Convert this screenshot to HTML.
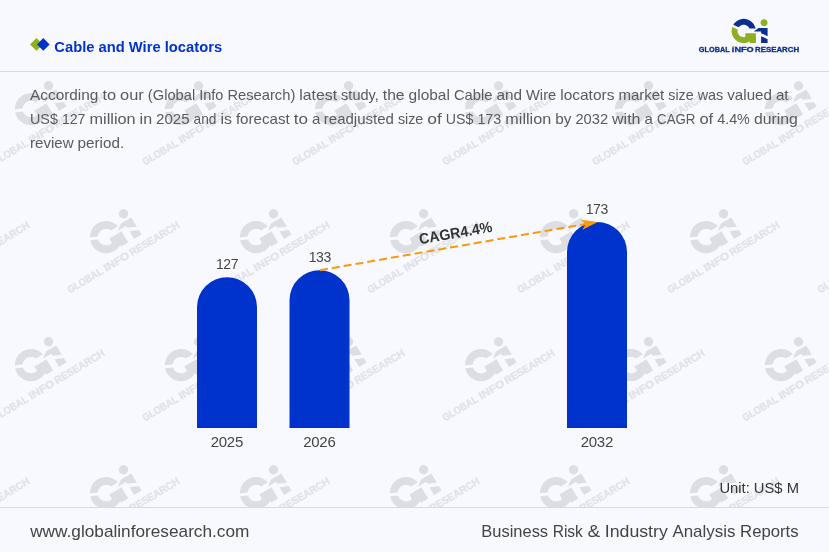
<!DOCTYPE html>
<html lang="en"><head><meta charset="utf-8"><title>Cable and Wire locators</title>
<style>
html,body{margin:0;padding:0;background:#f8f9fe;}
body{width:829px;height:552px;overflow:hidden;}
svg{display:block;will-change:transform;font-family:"Liberation Sans",sans-serif;}
</style></head><body>
<svg width="829" height="552" viewBox="0 0 829 552">
<rect width="829" height="552" fill="#f8f9fe"/>
<defs><clipPath id="wmclip"><rect x="0" y="71.5" width="829" height="435.5"/></clipPath></defs>

<g clip-path="url(#wmclip)">
<g transform="translate(31.00,109.10) rotate(-31) scale(1.33)"><path d="M9.79,-7.11L8.56,-8.56L7.11,-9.79L5.49,-10.78L3.74,-11.51L1.89,-11.95L0.00,-12.10L-1.89,-11.95L-3.74,-11.51L-5.49,-10.78L-7.11,-9.79L-8.56,-8.56L-9.79,-7.11L-10.41,-6.10L-5.02,-3.63L-5.02,-3.64L-4.38,-4.38L-3.64,-5.02L-2.81,-5.52L-1.92,-5.90L-0.97,-6.12L0.00,-6.20L0.97,-6.12L1.92,-5.90L2.81,-5.52L3.64,-5.02L4.38,-4.38L5.02,-3.64L5.52,-2.81L5.72,-2.35L11.84,-2.35L11.51,-3.74L10.78,-5.49ZM17.40,2.25L23.90,5.23L23.90,-2.90L17.40,-2.90L14.90,-2.90L10.00,0.45L17.40,0.45ZM23.90,8.23L17.40,5.25L17.40,12.05L23.90,12.05Z" fill="#dddee4"/><path d="M23.73,-9.16L23.38,-10.00L22.82,-10.72L22.10,-11.28L21.26,-11.63L20.35,-11.75L19.44,-11.63L18.60,-11.28L17.88,-10.72L17.32,-10.00L16.97,-9.16L16.85,-8.25L16.97,-7.34L17.32,-6.50L17.88,-5.78L18.60,-5.22L19.44,-4.87L20.35,-4.75L21.26,-4.87L22.10,-5.22L22.82,-5.78L23.38,-6.50L23.73,-7.34L23.85,-8.25ZM-11.51,3.74L-10.78,5.49L-9.79,7.11L-8.56,8.56L-7.11,9.79L-5.49,10.78L-3.74,11.51L-1.89,11.95L0.00,12.10L1.89,11.95L3.74,11.51L5.49,10.78L6.00,10.47L6.00,12.05L12.20,12.05L12.20,6.30L12.20,2.25L11.87,2.25L6.00,2.25L5.76,2.25L1.60,2.25L1.60,5.97L0.97,6.12L0.00,6.20L-0.97,6.12L-1.92,5.90L-2.81,5.52L-3.64,5.02L-4.38,4.38L-5.02,3.64L-5.52,2.81L-5.90,1.92L-6.12,0.97L-6.20,0.00L-6.12,-0.97L-5.98,-1.57L-11.38,-4.04L-11.51,-3.74L-11.95,-1.89L-12.10,0.00L-11.95,1.89Z" fill="#dddee4"/><text y="22.45" font-size="7.8" font-weight="700" fill="#e2e3e9" stroke="#e2e3e9" stroke-width="0.3" xml:space="preserve"><tspan x="-45.14" textLength="29.73" lengthAdjust="spacingAndGlyphs">GLOBAL</tspan> <tspan x="-13.21" textLength="21.12" lengthAdjust="spacingAndGlyphs">INFO</tspan> <tspan x="9.25" textLength="42.70" lengthAdjust="spacingAndGlyphs">RESEARCH</tspan></text></g>
<g transform="translate(181.00,109.10) rotate(-31) scale(1.33)"><path d="M9.79,-7.11L8.56,-8.56L7.11,-9.79L5.49,-10.78L3.74,-11.51L1.89,-11.95L0.00,-12.10L-1.89,-11.95L-3.74,-11.51L-5.49,-10.78L-7.11,-9.79L-8.56,-8.56L-9.79,-7.11L-10.41,-6.10L-5.02,-3.63L-5.02,-3.64L-4.38,-4.38L-3.64,-5.02L-2.81,-5.52L-1.92,-5.90L-0.97,-6.12L0.00,-6.20L0.97,-6.12L1.92,-5.90L2.81,-5.52L3.64,-5.02L4.38,-4.38L5.02,-3.64L5.52,-2.81L5.72,-2.35L11.84,-2.35L11.51,-3.74L10.78,-5.49ZM17.40,2.25L23.90,5.23L23.90,-2.90L17.40,-2.90L14.90,-2.90L10.00,0.45L17.40,0.45ZM23.90,8.23L17.40,5.25L17.40,12.05L23.90,12.05Z" fill="#dddee4"/><path d="M23.73,-9.16L23.38,-10.00L22.82,-10.72L22.10,-11.28L21.26,-11.63L20.35,-11.75L19.44,-11.63L18.60,-11.28L17.88,-10.72L17.32,-10.00L16.97,-9.16L16.85,-8.25L16.97,-7.34L17.32,-6.50L17.88,-5.78L18.60,-5.22L19.44,-4.87L20.35,-4.75L21.26,-4.87L22.10,-5.22L22.82,-5.78L23.38,-6.50L23.73,-7.34L23.85,-8.25ZM-11.51,3.74L-10.78,5.49L-9.79,7.11L-8.56,8.56L-7.11,9.79L-5.49,10.78L-3.74,11.51L-1.89,11.95L0.00,12.10L1.89,11.95L3.74,11.51L5.49,10.78L6.00,10.47L6.00,12.05L12.20,12.05L12.20,6.30L12.20,2.25L11.87,2.25L6.00,2.25L5.76,2.25L1.60,2.25L1.60,5.97L0.97,6.12L0.00,6.20L-0.97,6.12L-1.92,5.90L-2.81,5.52L-3.64,5.02L-4.38,4.38L-5.02,3.64L-5.52,2.81L-5.90,1.92L-6.12,0.97L-6.20,0.00L-6.12,-0.97L-5.98,-1.57L-11.38,-4.04L-11.51,-3.74L-11.95,-1.89L-12.10,0.00L-11.95,1.89Z" fill="#dddee4"/><text y="22.45" font-size="7.8" font-weight="700" fill="#e2e3e9" stroke="#e2e3e9" stroke-width="0.3" xml:space="preserve"><tspan x="-45.14" textLength="29.73" lengthAdjust="spacingAndGlyphs">GLOBAL</tspan> <tspan x="-13.21" textLength="21.12" lengthAdjust="spacingAndGlyphs">INFO</tspan> <tspan x="9.25" textLength="42.70" lengthAdjust="spacingAndGlyphs">RESEARCH</tspan></text></g>
<g transform="translate(331.00,109.10) rotate(-31) scale(1.33)"><path d="M9.79,-7.11L8.56,-8.56L7.11,-9.79L5.49,-10.78L3.74,-11.51L1.89,-11.95L0.00,-12.10L-1.89,-11.95L-3.74,-11.51L-5.49,-10.78L-7.11,-9.79L-8.56,-8.56L-9.79,-7.11L-10.41,-6.10L-5.02,-3.63L-5.02,-3.64L-4.38,-4.38L-3.64,-5.02L-2.81,-5.52L-1.92,-5.90L-0.97,-6.12L0.00,-6.20L0.97,-6.12L1.92,-5.90L2.81,-5.52L3.64,-5.02L4.38,-4.38L5.02,-3.64L5.52,-2.81L5.72,-2.35L11.84,-2.35L11.51,-3.74L10.78,-5.49ZM17.40,2.25L23.90,5.23L23.90,-2.90L17.40,-2.90L14.90,-2.90L10.00,0.45L17.40,0.45ZM23.90,8.23L17.40,5.25L17.40,12.05L23.90,12.05Z" fill="#dddee4"/><path d="M23.73,-9.16L23.38,-10.00L22.82,-10.72L22.10,-11.28L21.26,-11.63L20.35,-11.75L19.44,-11.63L18.60,-11.28L17.88,-10.72L17.32,-10.00L16.97,-9.16L16.85,-8.25L16.97,-7.34L17.32,-6.50L17.88,-5.78L18.60,-5.22L19.44,-4.87L20.35,-4.75L21.26,-4.87L22.10,-5.22L22.82,-5.78L23.38,-6.50L23.73,-7.34L23.85,-8.25ZM-11.51,3.74L-10.78,5.49L-9.79,7.11L-8.56,8.56L-7.11,9.79L-5.49,10.78L-3.74,11.51L-1.89,11.95L0.00,12.10L1.89,11.95L3.74,11.51L5.49,10.78L6.00,10.47L6.00,12.05L12.20,12.05L12.20,6.30L12.20,2.25L11.87,2.25L6.00,2.25L5.76,2.25L1.60,2.25L1.60,5.97L0.97,6.12L0.00,6.20L-0.97,6.12L-1.92,5.90L-2.81,5.52L-3.64,5.02L-4.38,4.38L-5.02,3.64L-5.52,2.81L-5.90,1.92L-6.12,0.97L-6.20,0.00L-6.12,-0.97L-5.98,-1.57L-11.38,-4.04L-11.51,-3.74L-11.95,-1.89L-12.10,0.00L-11.95,1.89Z" fill="#dddee4"/><text y="22.45" font-size="7.8" font-weight="700" fill="#e2e3e9" stroke="#e2e3e9" stroke-width="0.3" xml:space="preserve"><tspan x="-45.14" textLength="29.73" lengthAdjust="spacingAndGlyphs">GLOBAL</tspan> <tspan x="-13.21" textLength="21.12" lengthAdjust="spacingAndGlyphs">INFO</tspan> <tspan x="9.25" textLength="42.70" lengthAdjust="spacingAndGlyphs">RESEARCH</tspan></text></g>
<g transform="translate(481.00,109.10) rotate(-31) scale(1.33)"><path d="M9.79,-7.11L8.56,-8.56L7.11,-9.79L5.49,-10.78L3.74,-11.51L1.89,-11.95L0.00,-12.10L-1.89,-11.95L-3.74,-11.51L-5.49,-10.78L-7.11,-9.79L-8.56,-8.56L-9.79,-7.11L-10.41,-6.10L-5.02,-3.63L-5.02,-3.64L-4.38,-4.38L-3.64,-5.02L-2.81,-5.52L-1.92,-5.90L-0.97,-6.12L0.00,-6.20L0.97,-6.12L1.92,-5.90L2.81,-5.52L3.64,-5.02L4.38,-4.38L5.02,-3.64L5.52,-2.81L5.72,-2.35L11.84,-2.35L11.51,-3.74L10.78,-5.49ZM17.40,2.25L23.90,5.23L23.90,-2.90L17.40,-2.90L14.90,-2.90L10.00,0.45L17.40,0.45ZM23.90,8.23L17.40,5.25L17.40,12.05L23.90,12.05Z" fill="#dddee4"/><path d="M23.73,-9.16L23.38,-10.00L22.82,-10.72L22.10,-11.28L21.26,-11.63L20.35,-11.75L19.44,-11.63L18.60,-11.28L17.88,-10.72L17.32,-10.00L16.97,-9.16L16.85,-8.25L16.97,-7.34L17.32,-6.50L17.88,-5.78L18.60,-5.22L19.44,-4.87L20.35,-4.75L21.26,-4.87L22.10,-5.22L22.82,-5.78L23.38,-6.50L23.73,-7.34L23.85,-8.25ZM-11.51,3.74L-10.78,5.49L-9.79,7.11L-8.56,8.56L-7.11,9.79L-5.49,10.78L-3.74,11.51L-1.89,11.95L0.00,12.10L1.89,11.95L3.74,11.51L5.49,10.78L6.00,10.47L6.00,12.05L12.20,12.05L12.20,6.30L12.20,2.25L11.87,2.25L6.00,2.25L5.76,2.25L1.60,2.25L1.60,5.97L0.97,6.12L0.00,6.20L-0.97,6.12L-1.92,5.90L-2.81,5.52L-3.64,5.02L-4.38,4.38L-5.02,3.64L-5.52,2.81L-5.90,1.92L-6.12,0.97L-6.20,0.00L-6.12,-0.97L-5.98,-1.57L-11.38,-4.04L-11.51,-3.74L-11.95,-1.89L-12.10,0.00L-11.95,1.89Z" fill="#dddee4"/><text y="22.45" font-size="7.8" font-weight="700" fill="#e2e3e9" stroke="#e2e3e9" stroke-width="0.3" xml:space="preserve"><tspan x="-45.14" textLength="29.73" lengthAdjust="spacingAndGlyphs">GLOBAL</tspan> <tspan x="-13.21" textLength="21.12" lengthAdjust="spacingAndGlyphs">INFO</tspan> <tspan x="9.25" textLength="42.70" lengthAdjust="spacingAndGlyphs">RESEARCH</tspan></text></g>
<g transform="translate(631.00,109.10) rotate(-31) scale(1.33)"><path d="M9.79,-7.11L8.56,-8.56L7.11,-9.79L5.49,-10.78L3.74,-11.51L1.89,-11.95L0.00,-12.10L-1.89,-11.95L-3.74,-11.51L-5.49,-10.78L-7.11,-9.79L-8.56,-8.56L-9.79,-7.11L-10.41,-6.10L-5.02,-3.63L-5.02,-3.64L-4.38,-4.38L-3.64,-5.02L-2.81,-5.52L-1.92,-5.90L-0.97,-6.12L0.00,-6.20L0.97,-6.12L1.92,-5.90L2.81,-5.52L3.64,-5.02L4.38,-4.38L5.02,-3.64L5.52,-2.81L5.72,-2.35L11.84,-2.35L11.51,-3.74L10.78,-5.49ZM17.40,2.25L23.90,5.23L23.90,-2.90L17.40,-2.90L14.90,-2.90L10.00,0.45L17.40,0.45ZM23.90,8.23L17.40,5.25L17.40,12.05L23.90,12.05Z" fill="#dddee4"/><path d="M23.73,-9.16L23.38,-10.00L22.82,-10.72L22.10,-11.28L21.26,-11.63L20.35,-11.75L19.44,-11.63L18.60,-11.28L17.88,-10.72L17.32,-10.00L16.97,-9.16L16.85,-8.25L16.97,-7.34L17.32,-6.50L17.88,-5.78L18.60,-5.22L19.44,-4.87L20.35,-4.75L21.26,-4.87L22.10,-5.22L22.82,-5.78L23.38,-6.50L23.73,-7.34L23.85,-8.25ZM-11.51,3.74L-10.78,5.49L-9.79,7.11L-8.56,8.56L-7.11,9.79L-5.49,10.78L-3.74,11.51L-1.89,11.95L0.00,12.10L1.89,11.95L3.74,11.51L5.49,10.78L6.00,10.47L6.00,12.05L12.20,12.05L12.20,6.30L12.20,2.25L11.87,2.25L6.00,2.25L5.76,2.25L1.60,2.25L1.60,5.97L0.97,6.12L0.00,6.20L-0.97,6.12L-1.92,5.90L-2.81,5.52L-3.64,5.02L-4.38,4.38L-5.02,3.64L-5.52,2.81L-5.90,1.92L-6.12,0.97L-6.20,0.00L-6.12,-0.97L-5.98,-1.57L-11.38,-4.04L-11.51,-3.74L-11.95,-1.89L-12.10,0.00L-11.95,1.89Z" fill="#dddee4"/><text y="22.45" font-size="7.8" font-weight="700" fill="#e2e3e9" stroke="#e2e3e9" stroke-width="0.3" xml:space="preserve"><tspan x="-45.14" textLength="29.73" lengthAdjust="spacingAndGlyphs">GLOBAL</tspan> <tspan x="-13.21" textLength="21.12" lengthAdjust="spacingAndGlyphs">INFO</tspan> <tspan x="9.25" textLength="42.70" lengthAdjust="spacingAndGlyphs">RESEARCH</tspan></text></g>
<g transform="translate(781.00,109.10) rotate(-31) scale(1.33)"><path d="M9.79,-7.11L8.56,-8.56L7.11,-9.79L5.49,-10.78L3.74,-11.51L1.89,-11.95L0.00,-12.10L-1.89,-11.95L-3.74,-11.51L-5.49,-10.78L-7.11,-9.79L-8.56,-8.56L-9.79,-7.11L-10.41,-6.10L-5.02,-3.63L-5.02,-3.64L-4.38,-4.38L-3.64,-5.02L-2.81,-5.52L-1.92,-5.90L-0.97,-6.12L0.00,-6.20L0.97,-6.12L1.92,-5.90L2.81,-5.52L3.64,-5.02L4.38,-4.38L5.02,-3.64L5.52,-2.81L5.72,-2.35L11.84,-2.35L11.51,-3.74L10.78,-5.49ZM17.40,2.25L23.90,5.23L23.90,-2.90L17.40,-2.90L14.90,-2.90L10.00,0.45L17.40,0.45ZM23.90,8.23L17.40,5.25L17.40,12.05L23.90,12.05Z" fill="#dddee4"/><path d="M23.73,-9.16L23.38,-10.00L22.82,-10.72L22.10,-11.28L21.26,-11.63L20.35,-11.75L19.44,-11.63L18.60,-11.28L17.88,-10.72L17.32,-10.00L16.97,-9.16L16.85,-8.25L16.97,-7.34L17.32,-6.50L17.88,-5.78L18.60,-5.22L19.44,-4.87L20.35,-4.75L21.26,-4.87L22.10,-5.22L22.82,-5.78L23.38,-6.50L23.73,-7.34L23.85,-8.25ZM-11.51,3.74L-10.78,5.49L-9.79,7.11L-8.56,8.56L-7.11,9.79L-5.49,10.78L-3.74,11.51L-1.89,11.95L0.00,12.10L1.89,11.95L3.74,11.51L5.49,10.78L6.00,10.47L6.00,12.05L12.20,12.05L12.20,6.30L12.20,2.25L11.87,2.25L6.00,2.25L5.76,2.25L1.60,2.25L1.60,5.97L0.97,6.12L0.00,6.20L-0.97,6.12L-1.92,5.90L-2.81,5.52L-3.64,5.02L-4.38,4.38L-5.02,3.64L-5.52,2.81L-5.90,1.92L-6.12,0.97L-6.20,0.00L-6.12,-0.97L-5.98,-1.57L-11.38,-4.04L-11.51,-3.74L-11.95,-1.89L-12.10,0.00L-11.95,1.89Z" fill="#dddee4"/><text y="22.45" font-size="7.8" font-weight="700" fill="#e2e3e9" stroke="#e2e3e9" stroke-width="0.3" xml:space="preserve"><tspan x="-45.14" textLength="29.73" lengthAdjust="spacingAndGlyphs">GLOBAL</tspan> <tspan x="-13.21" textLength="21.12" lengthAdjust="spacingAndGlyphs">INFO</tspan> <tspan x="9.25" textLength="42.70" lengthAdjust="spacingAndGlyphs">RESEARCH</tspan></text></g>
<g transform="translate(-44.00,237.10) rotate(-31) scale(1.33)"><path d="M9.79,-7.11L8.56,-8.56L7.11,-9.79L5.49,-10.78L3.74,-11.51L1.89,-11.95L0.00,-12.10L-1.89,-11.95L-3.74,-11.51L-5.49,-10.78L-7.11,-9.79L-8.56,-8.56L-9.79,-7.11L-10.41,-6.10L-5.02,-3.63L-5.02,-3.64L-4.38,-4.38L-3.64,-5.02L-2.81,-5.52L-1.92,-5.90L-0.97,-6.12L0.00,-6.20L0.97,-6.12L1.92,-5.90L2.81,-5.52L3.64,-5.02L4.38,-4.38L5.02,-3.64L5.52,-2.81L5.72,-2.35L11.84,-2.35L11.51,-3.74L10.78,-5.49ZM17.40,2.25L23.90,5.23L23.90,-2.90L17.40,-2.90L14.90,-2.90L10.00,0.45L17.40,0.45ZM23.90,8.23L17.40,5.25L17.40,12.05L23.90,12.05Z" fill="#dddee4"/><path d="M23.73,-9.16L23.38,-10.00L22.82,-10.72L22.10,-11.28L21.26,-11.63L20.35,-11.75L19.44,-11.63L18.60,-11.28L17.88,-10.72L17.32,-10.00L16.97,-9.16L16.85,-8.25L16.97,-7.34L17.32,-6.50L17.88,-5.78L18.60,-5.22L19.44,-4.87L20.35,-4.75L21.26,-4.87L22.10,-5.22L22.82,-5.78L23.38,-6.50L23.73,-7.34L23.85,-8.25ZM-11.51,3.74L-10.78,5.49L-9.79,7.11L-8.56,8.56L-7.11,9.79L-5.49,10.78L-3.74,11.51L-1.89,11.95L0.00,12.10L1.89,11.95L3.74,11.51L5.49,10.78L6.00,10.47L6.00,12.05L12.20,12.05L12.20,6.30L12.20,2.25L11.87,2.25L6.00,2.25L5.76,2.25L1.60,2.25L1.60,5.97L0.97,6.12L0.00,6.20L-0.97,6.12L-1.92,5.90L-2.81,5.52L-3.64,5.02L-4.38,4.38L-5.02,3.64L-5.52,2.81L-5.90,1.92L-6.12,0.97L-6.20,0.00L-6.12,-0.97L-5.98,-1.57L-11.38,-4.04L-11.51,-3.74L-11.95,-1.89L-12.10,0.00L-11.95,1.89Z" fill="#dddee4"/><text y="22.45" font-size="7.8" font-weight="700" fill="#e2e3e9" stroke="#e2e3e9" stroke-width="0.3" xml:space="preserve"><tspan x="-45.14" textLength="29.73" lengthAdjust="spacingAndGlyphs">GLOBAL</tspan> <tspan x="-13.21" textLength="21.12" lengthAdjust="spacingAndGlyphs">INFO</tspan> <tspan x="9.25" textLength="42.70" lengthAdjust="spacingAndGlyphs">RESEARCH</tspan></text></g>
<g transform="translate(106.00,237.10) rotate(-31) scale(1.33)"><path d="M9.79,-7.11L8.56,-8.56L7.11,-9.79L5.49,-10.78L3.74,-11.51L1.89,-11.95L0.00,-12.10L-1.89,-11.95L-3.74,-11.51L-5.49,-10.78L-7.11,-9.79L-8.56,-8.56L-9.79,-7.11L-10.41,-6.10L-5.02,-3.63L-5.02,-3.64L-4.38,-4.38L-3.64,-5.02L-2.81,-5.52L-1.92,-5.90L-0.97,-6.12L0.00,-6.20L0.97,-6.12L1.92,-5.90L2.81,-5.52L3.64,-5.02L4.38,-4.38L5.02,-3.64L5.52,-2.81L5.72,-2.35L11.84,-2.35L11.51,-3.74L10.78,-5.49ZM17.40,2.25L23.90,5.23L23.90,-2.90L17.40,-2.90L14.90,-2.90L10.00,0.45L17.40,0.45ZM23.90,8.23L17.40,5.25L17.40,12.05L23.90,12.05Z" fill="#dddee4"/><path d="M23.73,-9.16L23.38,-10.00L22.82,-10.72L22.10,-11.28L21.26,-11.63L20.35,-11.75L19.44,-11.63L18.60,-11.28L17.88,-10.72L17.32,-10.00L16.97,-9.16L16.85,-8.25L16.97,-7.34L17.32,-6.50L17.88,-5.78L18.60,-5.22L19.44,-4.87L20.35,-4.75L21.26,-4.87L22.10,-5.22L22.82,-5.78L23.38,-6.50L23.73,-7.34L23.85,-8.25ZM-11.51,3.74L-10.78,5.49L-9.79,7.11L-8.56,8.56L-7.11,9.79L-5.49,10.78L-3.74,11.51L-1.89,11.95L0.00,12.10L1.89,11.95L3.74,11.51L5.49,10.78L6.00,10.47L6.00,12.05L12.20,12.05L12.20,6.30L12.20,2.25L11.87,2.25L6.00,2.25L5.76,2.25L1.60,2.25L1.60,5.97L0.97,6.12L0.00,6.20L-0.97,6.12L-1.92,5.90L-2.81,5.52L-3.64,5.02L-4.38,4.38L-5.02,3.64L-5.52,2.81L-5.90,1.92L-6.12,0.97L-6.20,0.00L-6.12,-0.97L-5.98,-1.57L-11.38,-4.04L-11.51,-3.74L-11.95,-1.89L-12.10,0.00L-11.95,1.89Z" fill="#dddee4"/><text y="22.45" font-size="7.8" font-weight="700" fill="#e2e3e9" stroke="#e2e3e9" stroke-width="0.3" xml:space="preserve"><tspan x="-45.14" textLength="29.73" lengthAdjust="spacingAndGlyphs">GLOBAL</tspan> <tspan x="-13.21" textLength="21.12" lengthAdjust="spacingAndGlyphs">INFO</tspan> <tspan x="9.25" textLength="42.70" lengthAdjust="spacingAndGlyphs">RESEARCH</tspan></text></g>
<g transform="translate(256.00,237.10) rotate(-31) scale(1.33)"><path d="M9.79,-7.11L8.56,-8.56L7.11,-9.79L5.49,-10.78L3.74,-11.51L1.89,-11.95L0.00,-12.10L-1.89,-11.95L-3.74,-11.51L-5.49,-10.78L-7.11,-9.79L-8.56,-8.56L-9.79,-7.11L-10.41,-6.10L-5.02,-3.63L-5.02,-3.64L-4.38,-4.38L-3.64,-5.02L-2.81,-5.52L-1.92,-5.90L-0.97,-6.12L0.00,-6.20L0.97,-6.12L1.92,-5.90L2.81,-5.52L3.64,-5.02L4.38,-4.38L5.02,-3.64L5.52,-2.81L5.72,-2.35L11.84,-2.35L11.51,-3.74L10.78,-5.49ZM17.40,2.25L23.90,5.23L23.90,-2.90L17.40,-2.90L14.90,-2.90L10.00,0.45L17.40,0.45ZM23.90,8.23L17.40,5.25L17.40,12.05L23.90,12.05Z" fill="#dddee4"/><path d="M23.73,-9.16L23.38,-10.00L22.82,-10.72L22.10,-11.28L21.26,-11.63L20.35,-11.75L19.44,-11.63L18.60,-11.28L17.88,-10.72L17.32,-10.00L16.97,-9.16L16.85,-8.25L16.97,-7.34L17.32,-6.50L17.88,-5.78L18.60,-5.22L19.44,-4.87L20.35,-4.75L21.26,-4.87L22.10,-5.22L22.82,-5.78L23.38,-6.50L23.73,-7.34L23.85,-8.25ZM-11.51,3.74L-10.78,5.49L-9.79,7.11L-8.56,8.56L-7.11,9.79L-5.49,10.78L-3.74,11.51L-1.89,11.95L0.00,12.10L1.89,11.95L3.74,11.51L5.49,10.78L6.00,10.47L6.00,12.05L12.20,12.05L12.20,6.30L12.20,2.25L11.87,2.25L6.00,2.25L5.76,2.25L1.60,2.25L1.60,5.97L0.97,6.12L0.00,6.20L-0.97,6.12L-1.92,5.90L-2.81,5.52L-3.64,5.02L-4.38,4.38L-5.02,3.64L-5.52,2.81L-5.90,1.92L-6.12,0.97L-6.20,0.00L-6.12,-0.97L-5.98,-1.57L-11.38,-4.04L-11.51,-3.74L-11.95,-1.89L-12.10,0.00L-11.95,1.89Z" fill="#dddee4"/><text y="22.45" font-size="7.8" font-weight="700" fill="#e2e3e9" stroke="#e2e3e9" stroke-width="0.3" xml:space="preserve"><tspan x="-45.14" textLength="29.73" lengthAdjust="spacingAndGlyphs">GLOBAL</tspan> <tspan x="-13.21" textLength="21.12" lengthAdjust="spacingAndGlyphs">INFO</tspan> <tspan x="9.25" textLength="42.70" lengthAdjust="spacingAndGlyphs">RESEARCH</tspan></text></g>
<g transform="translate(406.00,237.10) rotate(-31) scale(1.33)"><path d="M9.79,-7.11L8.56,-8.56L7.11,-9.79L5.49,-10.78L3.74,-11.51L1.89,-11.95L0.00,-12.10L-1.89,-11.95L-3.74,-11.51L-5.49,-10.78L-7.11,-9.79L-8.56,-8.56L-9.79,-7.11L-10.41,-6.10L-5.02,-3.63L-5.02,-3.64L-4.38,-4.38L-3.64,-5.02L-2.81,-5.52L-1.92,-5.90L-0.97,-6.12L0.00,-6.20L0.97,-6.12L1.92,-5.90L2.81,-5.52L3.64,-5.02L4.38,-4.38L5.02,-3.64L5.52,-2.81L5.72,-2.35L11.84,-2.35L11.51,-3.74L10.78,-5.49ZM17.40,2.25L23.90,5.23L23.90,-2.90L17.40,-2.90L14.90,-2.90L10.00,0.45L17.40,0.45ZM23.90,8.23L17.40,5.25L17.40,12.05L23.90,12.05Z" fill="#dddee4"/><path d="M23.73,-9.16L23.38,-10.00L22.82,-10.72L22.10,-11.28L21.26,-11.63L20.35,-11.75L19.44,-11.63L18.60,-11.28L17.88,-10.72L17.32,-10.00L16.97,-9.16L16.85,-8.25L16.97,-7.34L17.32,-6.50L17.88,-5.78L18.60,-5.22L19.44,-4.87L20.35,-4.75L21.26,-4.87L22.10,-5.22L22.82,-5.78L23.38,-6.50L23.73,-7.34L23.85,-8.25ZM-11.51,3.74L-10.78,5.49L-9.79,7.11L-8.56,8.56L-7.11,9.79L-5.49,10.78L-3.74,11.51L-1.89,11.95L0.00,12.10L1.89,11.95L3.74,11.51L5.49,10.78L6.00,10.47L6.00,12.05L12.20,12.05L12.20,6.30L12.20,2.25L11.87,2.25L6.00,2.25L5.76,2.25L1.60,2.25L1.60,5.97L0.97,6.12L0.00,6.20L-0.97,6.12L-1.92,5.90L-2.81,5.52L-3.64,5.02L-4.38,4.38L-5.02,3.64L-5.52,2.81L-5.90,1.92L-6.12,0.97L-6.20,0.00L-6.12,-0.97L-5.98,-1.57L-11.38,-4.04L-11.51,-3.74L-11.95,-1.89L-12.10,0.00L-11.95,1.89Z" fill="#dddee4"/><text y="22.45" font-size="7.8" font-weight="700" fill="#e2e3e9" stroke="#e2e3e9" stroke-width="0.3" xml:space="preserve"><tspan x="-45.14" textLength="29.73" lengthAdjust="spacingAndGlyphs">GLOBAL</tspan> <tspan x="-13.21" textLength="21.12" lengthAdjust="spacingAndGlyphs">INFO</tspan> <tspan x="9.25" textLength="42.70" lengthAdjust="spacingAndGlyphs">RESEARCH</tspan></text></g>
<g transform="translate(556.00,237.10) rotate(-31) scale(1.33)"><path d="M9.79,-7.11L8.56,-8.56L7.11,-9.79L5.49,-10.78L3.74,-11.51L1.89,-11.95L0.00,-12.10L-1.89,-11.95L-3.74,-11.51L-5.49,-10.78L-7.11,-9.79L-8.56,-8.56L-9.79,-7.11L-10.41,-6.10L-5.02,-3.63L-5.02,-3.64L-4.38,-4.38L-3.64,-5.02L-2.81,-5.52L-1.92,-5.90L-0.97,-6.12L0.00,-6.20L0.97,-6.12L1.92,-5.90L2.81,-5.52L3.64,-5.02L4.38,-4.38L5.02,-3.64L5.52,-2.81L5.72,-2.35L11.84,-2.35L11.51,-3.74L10.78,-5.49ZM17.40,2.25L23.90,5.23L23.90,-2.90L17.40,-2.90L14.90,-2.90L10.00,0.45L17.40,0.45ZM23.90,8.23L17.40,5.25L17.40,12.05L23.90,12.05Z" fill="#dddee4"/><path d="M23.73,-9.16L23.38,-10.00L22.82,-10.72L22.10,-11.28L21.26,-11.63L20.35,-11.75L19.44,-11.63L18.60,-11.28L17.88,-10.72L17.32,-10.00L16.97,-9.16L16.85,-8.25L16.97,-7.34L17.32,-6.50L17.88,-5.78L18.60,-5.22L19.44,-4.87L20.35,-4.75L21.26,-4.87L22.10,-5.22L22.82,-5.78L23.38,-6.50L23.73,-7.34L23.85,-8.25ZM-11.51,3.74L-10.78,5.49L-9.79,7.11L-8.56,8.56L-7.11,9.79L-5.49,10.78L-3.74,11.51L-1.89,11.95L0.00,12.10L1.89,11.95L3.74,11.51L5.49,10.78L6.00,10.47L6.00,12.05L12.20,12.05L12.20,6.30L12.20,2.25L11.87,2.25L6.00,2.25L5.76,2.25L1.60,2.25L1.60,5.97L0.97,6.12L0.00,6.20L-0.97,6.12L-1.92,5.90L-2.81,5.52L-3.64,5.02L-4.38,4.38L-5.02,3.64L-5.52,2.81L-5.90,1.92L-6.12,0.97L-6.20,0.00L-6.12,-0.97L-5.98,-1.57L-11.38,-4.04L-11.51,-3.74L-11.95,-1.89L-12.10,0.00L-11.95,1.89Z" fill="#dddee4"/><text y="22.45" font-size="7.8" font-weight="700" fill="#e2e3e9" stroke="#e2e3e9" stroke-width="0.3" xml:space="preserve"><tspan x="-45.14" textLength="29.73" lengthAdjust="spacingAndGlyphs">GLOBAL</tspan> <tspan x="-13.21" textLength="21.12" lengthAdjust="spacingAndGlyphs">INFO</tspan> <tspan x="9.25" textLength="42.70" lengthAdjust="spacingAndGlyphs">RESEARCH</tspan></text></g>
<g transform="translate(706.00,237.10) rotate(-31) scale(1.33)"><path d="M9.79,-7.11L8.56,-8.56L7.11,-9.79L5.49,-10.78L3.74,-11.51L1.89,-11.95L0.00,-12.10L-1.89,-11.95L-3.74,-11.51L-5.49,-10.78L-7.11,-9.79L-8.56,-8.56L-9.79,-7.11L-10.41,-6.10L-5.02,-3.63L-5.02,-3.64L-4.38,-4.38L-3.64,-5.02L-2.81,-5.52L-1.92,-5.90L-0.97,-6.12L0.00,-6.20L0.97,-6.12L1.92,-5.90L2.81,-5.52L3.64,-5.02L4.38,-4.38L5.02,-3.64L5.52,-2.81L5.72,-2.35L11.84,-2.35L11.51,-3.74L10.78,-5.49ZM17.40,2.25L23.90,5.23L23.90,-2.90L17.40,-2.90L14.90,-2.90L10.00,0.45L17.40,0.45ZM23.90,8.23L17.40,5.25L17.40,12.05L23.90,12.05Z" fill="#dddee4"/><path d="M23.73,-9.16L23.38,-10.00L22.82,-10.72L22.10,-11.28L21.26,-11.63L20.35,-11.75L19.44,-11.63L18.60,-11.28L17.88,-10.72L17.32,-10.00L16.97,-9.16L16.85,-8.25L16.97,-7.34L17.32,-6.50L17.88,-5.78L18.60,-5.22L19.44,-4.87L20.35,-4.75L21.26,-4.87L22.10,-5.22L22.82,-5.78L23.38,-6.50L23.73,-7.34L23.85,-8.25ZM-11.51,3.74L-10.78,5.49L-9.79,7.11L-8.56,8.56L-7.11,9.79L-5.49,10.78L-3.74,11.51L-1.89,11.95L0.00,12.10L1.89,11.95L3.74,11.51L5.49,10.78L6.00,10.47L6.00,12.05L12.20,12.05L12.20,6.30L12.20,2.25L11.87,2.25L6.00,2.25L5.76,2.25L1.60,2.25L1.60,5.97L0.97,6.12L0.00,6.20L-0.97,6.12L-1.92,5.90L-2.81,5.52L-3.64,5.02L-4.38,4.38L-5.02,3.64L-5.52,2.81L-5.90,1.92L-6.12,0.97L-6.20,0.00L-6.12,-0.97L-5.98,-1.57L-11.38,-4.04L-11.51,-3.74L-11.95,-1.89L-12.10,0.00L-11.95,1.89Z" fill="#dddee4"/><text y="22.45" font-size="7.8" font-weight="700" fill="#e2e3e9" stroke="#e2e3e9" stroke-width="0.3" xml:space="preserve"><tspan x="-45.14" textLength="29.73" lengthAdjust="spacingAndGlyphs">GLOBAL</tspan> <tspan x="-13.21" textLength="21.12" lengthAdjust="spacingAndGlyphs">INFO</tspan> <tspan x="9.25" textLength="42.70" lengthAdjust="spacingAndGlyphs">RESEARCH</tspan></text></g>
<g transform="translate(856.00,237.10) rotate(-31) scale(1.33)"><path d="M9.79,-7.11L8.56,-8.56L7.11,-9.79L5.49,-10.78L3.74,-11.51L1.89,-11.95L0.00,-12.10L-1.89,-11.95L-3.74,-11.51L-5.49,-10.78L-7.11,-9.79L-8.56,-8.56L-9.79,-7.11L-10.41,-6.10L-5.02,-3.63L-5.02,-3.64L-4.38,-4.38L-3.64,-5.02L-2.81,-5.52L-1.92,-5.90L-0.97,-6.12L0.00,-6.20L0.97,-6.12L1.92,-5.90L2.81,-5.52L3.64,-5.02L4.38,-4.38L5.02,-3.64L5.52,-2.81L5.72,-2.35L11.84,-2.35L11.51,-3.74L10.78,-5.49ZM17.40,2.25L23.90,5.23L23.90,-2.90L17.40,-2.90L14.90,-2.90L10.00,0.45L17.40,0.45ZM23.90,8.23L17.40,5.25L17.40,12.05L23.90,12.05Z" fill="#dddee4"/><path d="M23.73,-9.16L23.38,-10.00L22.82,-10.72L22.10,-11.28L21.26,-11.63L20.35,-11.75L19.44,-11.63L18.60,-11.28L17.88,-10.72L17.32,-10.00L16.97,-9.16L16.85,-8.25L16.97,-7.34L17.32,-6.50L17.88,-5.78L18.60,-5.22L19.44,-4.87L20.35,-4.75L21.26,-4.87L22.10,-5.22L22.82,-5.78L23.38,-6.50L23.73,-7.34L23.85,-8.25ZM-11.51,3.74L-10.78,5.49L-9.79,7.11L-8.56,8.56L-7.11,9.79L-5.49,10.78L-3.74,11.51L-1.89,11.95L0.00,12.10L1.89,11.95L3.74,11.51L5.49,10.78L6.00,10.47L6.00,12.05L12.20,12.05L12.20,6.30L12.20,2.25L11.87,2.25L6.00,2.25L5.76,2.25L1.60,2.25L1.60,5.97L0.97,6.12L0.00,6.20L-0.97,6.12L-1.92,5.90L-2.81,5.52L-3.64,5.02L-4.38,4.38L-5.02,3.64L-5.52,2.81L-5.90,1.92L-6.12,0.97L-6.20,0.00L-6.12,-0.97L-5.98,-1.57L-11.38,-4.04L-11.51,-3.74L-11.95,-1.89L-12.10,0.00L-11.95,1.89Z" fill="#dddee4"/><text y="22.45" font-size="7.8" font-weight="700" fill="#e2e3e9" stroke="#e2e3e9" stroke-width="0.3" xml:space="preserve"><tspan x="-45.14" textLength="29.73" lengthAdjust="spacingAndGlyphs">GLOBAL</tspan> <tspan x="-13.21" textLength="21.12" lengthAdjust="spacingAndGlyphs">INFO</tspan> <tspan x="9.25" textLength="42.70" lengthAdjust="spacingAndGlyphs">RESEARCH</tspan></text></g>
<g transform="translate(31.00,365.10) rotate(-31) scale(1.33)"><path d="M9.79,-7.11L8.56,-8.56L7.11,-9.79L5.49,-10.78L3.74,-11.51L1.89,-11.95L0.00,-12.10L-1.89,-11.95L-3.74,-11.51L-5.49,-10.78L-7.11,-9.79L-8.56,-8.56L-9.79,-7.11L-10.41,-6.10L-5.02,-3.63L-5.02,-3.64L-4.38,-4.38L-3.64,-5.02L-2.81,-5.52L-1.92,-5.90L-0.97,-6.12L0.00,-6.20L0.97,-6.12L1.92,-5.90L2.81,-5.52L3.64,-5.02L4.38,-4.38L5.02,-3.64L5.52,-2.81L5.72,-2.35L11.84,-2.35L11.51,-3.74L10.78,-5.49ZM17.40,2.25L23.90,5.23L23.90,-2.90L17.40,-2.90L14.90,-2.90L10.00,0.45L17.40,0.45ZM23.90,8.23L17.40,5.25L17.40,12.05L23.90,12.05Z" fill="#dddee4"/><path d="M23.73,-9.16L23.38,-10.00L22.82,-10.72L22.10,-11.28L21.26,-11.63L20.35,-11.75L19.44,-11.63L18.60,-11.28L17.88,-10.72L17.32,-10.00L16.97,-9.16L16.85,-8.25L16.97,-7.34L17.32,-6.50L17.88,-5.78L18.60,-5.22L19.44,-4.87L20.35,-4.75L21.26,-4.87L22.10,-5.22L22.82,-5.78L23.38,-6.50L23.73,-7.34L23.85,-8.25ZM-11.51,3.74L-10.78,5.49L-9.79,7.11L-8.56,8.56L-7.11,9.79L-5.49,10.78L-3.74,11.51L-1.89,11.95L0.00,12.10L1.89,11.95L3.74,11.51L5.49,10.78L6.00,10.47L6.00,12.05L12.20,12.05L12.20,6.30L12.20,2.25L11.87,2.25L6.00,2.25L5.76,2.25L1.60,2.25L1.60,5.97L0.97,6.12L0.00,6.20L-0.97,6.12L-1.92,5.90L-2.81,5.52L-3.64,5.02L-4.38,4.38L-5.02,3.64L-5.52,2.81L-5.90,1.92L-6.12,0.97L-6.20,0.00L-6.12,-0.97L-5.98,-1.57L-11.38,-4.04L-11.51,-3.74L-11.95,-1.89L-12.10,0.00L-11.95,1.89Z" fill="#dddee4"/><text y="22.45" font-size="7.8" font-weight="700" fill="#e2e3e9" stroke="#e2e3e9" stroke-width="0.3" xml:space="preserve"><tspan x="-45.14" textLength="29.73" lengthAdjust="spacingAndGlyphs">GLOBAL</tspan> <tspan x="-13.21" textLength="21.12" lengthAdjust="spacingAndGlyphs">INFO</tspan> <tspan x="9.25" textLength="42.70" lengthAdjust="spacingAndGlyphs">RESEARCH</tspan></text></g>
<g transform="translate(181.00,365.10) rotate(-31) scale(1.33)"><path d="M9.79,-7.11L8.56,-8.56L7.11,-9.79L5.49,-10.78L3.74,-11.51L1.89,-11.95L0.00,-12.10L-1.89,-11.95L-3.74,-11.51L-5.49,-10.78L-7.11,-9.79L-8.56,-8.56L-9.79,-7.11L-10.41,-6.10L-5.02,-3.63L-5.02,-3.64L-4.38,-4.38L-3.64,-5.02L-2.81,-5.52L-1.92,-5.90L-0.97,-6.12L0.00,-6.20L0.97,-6.12L1.92,-5.90L2.81,-5.52L3.64,-5.02L4.38,-4.38L5.02,-3.64L5.52,-2.81L5.72,-2.35L11.84,-2.35L11.51,-3.74L10.78,-5.49ZM17.40,2.25L23.90,5.23L23.90,-2.90L17.40,-2.90L14.90,-2.90L10.00,0.45L17.40,0.45ZM23.90,8.23L17.40,5.25L17.40,12.05L23.90,12.05Z" fill="#dddee4"/><path d="M23.73,-9.16L23.38,-10.00L22.82,-10.72L22.10,-11.28L21.26,-11.63L20.35,-11.75L19.44,-11.63L18.60,-11.28L17.88,-10.72L17.32,-10.00L16.97,-9.16L16.85,-8.25L16.97,-7.34L17.32,-6.50L17.88,-5.78L18.60,-5.22L19.44,-4.87L20.35,-4.75L21.26,-4.87L22.10,-5.22L22.82,-5.78L23.38,-6.50L23.73,-7.34L23.85,-8.25ZM-11.51,3.74L-10.78,5.49L-9.79,7.11L-8.56,8.56L-7.11,9.79L-5.49,10.78L-3.74,11.51L-1.89,11.95L0.00,12.10L1.89,11.95L3.74,11.51L5.49,10.78L6.00,10.47L6.00,12.05L12.20,12.05L12.20,6.30L12.20,2.25L11.87,2.25L6.00,2.25L5.76,2.25L1.60,2.25L1.60,5.97L0.97,6.12L0.00,6.20L-0.97,6.12L-1.92,5.90L-2.81,5.52L-3.64,5.02L-4.38,4.38L-5.02,3.64L-5.52,2.81L-5.90,1.92L-6.12,0.97L-6.20,0.00L-6.12,-0.97L-5.98,-1.57L-11.38,-4.04L-11.51,-3.74L-11.95,-1.89L-12.10,0.00L-11.95,1.89Z" fill="#dddee4"/><text y="22.45" font-size="7.8" font-weight="700" fill="#e2e3e9" stroke="#e2e3e9" stroke-width="0.3" xml:space="preserve"><tspan x="-45.14" textLength="29.73" lengthAdjust="spacingAndGlyphs">GLOBAL</tspan> <tspan x="-13.21" textLength="21.12" lengthAdjust="spacingAndGlyphs">INFO</tspan> <tspan x="9.25" textLength="42.70" lengthAdjust="spacingAndGlyphs">RESEARCH</tspan></text></g>
<g transform="translate(331.00,365.10) rotate(-31) scale(1.33)"><path d="M9.79,-7.11L8.56,-8.56L7.11,-9.79L5.49,-10.78L3.74,-11.51L1.89,-11.95L0.00,-12.10L-1.89,-11.95L-3.74,-11.51L-5.49,-10.78L-7.11,-9.79L-8.56,-8.56L-9.79,-7.11L-10.41,-6.10L-5.02,-3.63L-5.02,-3.64L-4.38,-4.38L-3.64,-5.02L-2.81,-5.52L-1.92,-5.90L-0.97,-6.12L0.00,-6.20L0.97,-6.12L1.92,-5.90L2.81,-5.52L3.64,-5.02L4.38,-4.38L5.02,-3.64L5.52,-2.81L5.72,-2.35L11.84,-2.35L11.51,-3.74L10.78,-5.49ZM17.40,2.25L23.90,5.23L23.90,-2.90L17.40,-2.90L14.90,-2.90L10.00,0.45L17.40,0.45ZM23.90,8.23L17.40,5.25L17.40,12.05L23.90,12.05Z" fill="#dddee4"/><path d="M23.73,-9.16L23.38,-10.00L22.82,-10.72L22.10,-11.28L21.26,-11.63L20.35,-11.75L19.44,-11.63L18.60,-11.28L17.88,-10.72L17.32,-10.00L16.97,-9.16L16.85,-8.25L16.97,-7.34L17.32,-6.50L17.88,-5.78L18.60,-5.22L19.44,-4.87L20.35,-4.75L21.26,-4.87L22.10,-5.22L22.82,-5.78L23.38,-6.50L23.73,-7.34L23.85,-8.25ZM-11.51,3.74L-10.78,5.49L-9.79,7.11L-8.56,8.56L-7.11,9.79L-5.49,10.78L-3.74,11.51L-1.89,11.95L0.00,12.10L1.89,11.95L3.74,11.51L5.49,10.78L6.00,10.47L6.00,12.05L12.20,12.05L12.20,6.30L12.20,2.25L11.87,2.25L6.00,2.25L5.76,2.25L1.60,2.25L1.60,5.97L0.97,6.12L0.00,6.20L-0.97,6.12L-1.92,5.90L-2.81,5.52L-3.64,5.02L-4.38,4.38L-5.02,3.64L-5.52,2.81L-5.90,1.92L-6.12,0.97L-6.20,0.00L-6.12,-0.97L-5.98,-1.57L-11.38,-4.04L-11.51,-3.74L-11.95,-1.89L-12.10,0.00L-11.95,1.89Z" fill="#dddee4"/><text y="22.45" font-size="7.8" font-weight="700" fill="#e2e3e9" stroke="#e2e3e9" stroke-width="0.3" xml:space="preserve"><tspan x="-45.14" textLength="29.73" lengthAdjust="spacingAndGlyphs">GLOBAL</tspan> <tspan x="-13.21" textLength="21.12" lengthAdjust="spacingAndGlyphs">INFO</tspan> <tspan x="9.25" textLength="42.70" lengthAdjust="spacingAndGlyphs">RESEARCH</tspan></text></g>
<g transform="translate(481.00,365.10) rotate(-31) scale(1.33)"><path d="M9.79,-7.11L8.56,-8.56L7.11,-9.79L5.49,-10.78L3.74,-11.51L1.89,-11.95L0.00,-12.10L-1.89,-11.95L-3.74,-11.51L-5.49,-10.78L-7.11,-9.79L-8.56,-8.56L-9.79,-7.11L-10.41,-6.10L-5.02,-3.63L-5.02,-3.64L-4.38,-4.38L-3.64,-5.02L-2.81,-5.52L-1.92,-5.90L-0.97,-6.12L0.00,-6.20L0.97,-6.12L1.92,-5.90L2.81,-5.52L3.64,-5.02L4.38,-4.38L5.02,-3.64L5.52,-2.81L5.72,-2.35L11.84,-2.35L11.51,-3.74L10.78,-5.49ZM17.40,2.25L23.90,5.23L23.90,-2.90L17.40,-2.90L14.90,-2.90L10.00,0.45L17.40,0.45ZM23.90,8.23L17.40,5.25L17.40,12.05L23.90,12.05Z" fill="#dddee4"/><path d="M23.73,-9.16L23.38,-10.00L22.82,-10.72L22.10,-11.28L21.26,-11.63L20.35,-11.75L19.44,-11.63L18.60,-11.28L17.88,-10.72L17.32,-10.00L16.97,-9.16L16.85,-8.25L16.97,-7.34L17.32,-6.50L17.88,-5.78L18.60,-5.22L19.44,-4.87L20.35,-4.75L21.26,-4.87L22.10,-5.22L22.82,-5.78L23.38,-6.50L23.73,-7.34L23.85,-8.25ZM-11.51,3.74L-10.78,5.49L-9.79,7.11L-8.56,8.56L-7.11,9.79L-5.49,10.78L-3.74,11.51L-1.89,11.95L0.00,12.10L1.89,11.95L3.74,11.51L5.49,10.78L6.00,10.47L6.00,12.05L12.20,12.05L12.20,6.30L12.20,2.25L11.87,2.25L6.00,2.25L5.76,2.25L1.60,2.25L1.60,5.97L0.97,6.12L0.00,6.20L-0.97,6.12L-1.92,5.90L-2.81,5.52L-3.64,5.02L-4.38,4.38L-5.02,3.64L-5.52,2.81L-5.90,1.92L-6.12,0.97L-6.20,0.00L-6.12,-0.97L-5.98,-1.57L-11.38,-4.04L-11.51,-3.74L-11.95,-1.89L-12.10,0.00L-11.95,1.89Z" fill="#dddee4"/><text y="22.45" font-size="7.8" font-weight="700" fill="#e2e3e9" stroke="#e2e3e9" stroke-width="0.3" xml:space="preserve"><tspan x="-45.14" textLength="29.73" lengthAdjust="spacingAndGlyphs">GLOBAL</tspan> <tspan x="-13.21" textLength="21.12" lengthAdjust="spacingAndGlyphs">INFO</tspan> <tspan x="9.25" textLength="42.70" lengthAdjust="spacingAndGlyphs">RESEARCH</tspan></text></g>
<g transform="translate(631.00,365.10) rotate(-31) scale(1.33)"><path d="M9.79,-7.11L8.56,-8.56L7.11,-9.79L5.49,-10.78L3.74,-11.51L1.89,-11.95L0.00,-12.10L-1.89,-11.95L-3.74,-11.51L-5.49,-10.78L-7.11,-9.79L-8.56,-8.56L-9.79,-7.11L-10.41,-6.10L-5.02,-3.63L-5.02,-3.64L-4.38,-4.38L-3.64,-5.02L-2.81,-5.52L-1.92,-5.90L-0.97,-6.12L0.00,-6.20L0.97,-6.12L1.92,-5.90L2.81,-5.52L3.64,-5.02L4.38,-4.38L5.02,-3.64L5.52,-2.81L5.72,-2.35L11.84,-2.35L11.51,-3.74L10.78,-5.49ZM17.40,2.25L23.90,5.23L23.90,-2.90L17.40,-2.90L14.90,-2.90L10.00,0.45L17.40,0.45ZM23.90,8.23L17.40,5.25L17.40,12.05L23.90,12.05Z" fill="#dddee4"/><path d="M23.73,-9.16L23.38,-10.00L22.82,-10.72L22.10,-11.28L21.26,-11.63L20.35,-11.75L19.44,-11.63L18.60,-11.28L17.88,-10.72L17.32,-10.00L16.97,-9.16L16.85,-8.25L16.97,-7.34L17.32,-6.50L17.88,-5.78L18.60,-5.22L19.44,-4.87L20.35,-4.75L21.26,-4.87L22.10,-5.22L22.82,-5.78L23.38,-6.50L23.73,-7.34L23.85,-8.25ZM-11.51,3.74L-10.78,5.49L-9.79,7.11L-8.56,8.56L-7.11,9.79L-5.49,10.78L-3.74,11.51L-1.89,11.95L0.00,12.10L1.89,11.95L3.74,11.51L5.49,10.78L6.00,10.47L6.00,12.05L12.20,12.05L12.20,6.30L12.20,2.25L11.87,2.25L6.00,2.25L5.76,2.25L1.60,2.25L1.60,5.97L0.97,6.12L0.00,6.20L-0.97,6.12L-1.92,5.90L-2.81,5.52L-3.64,5.02L-4.38,4.38L-5.02,3.64L-5.52,2.81L-5.90,1.92L-6.12,0.97L-6.20,0.00L-6.12,-0.97L-5.98,-1.57L-11.38,-4.04L-11.51,-3.74L-11.95,-1.89L-12.10,0.00L-11.95,1.89Z" fill="#dddee4"/><text y="22.45" font-size="7.8" font-weight="700" fill="#e2e3e9" stroke="#e2e3e9" stroke-width="0.3" xml:space="preserve"><tspan x="-45.14" textLength="29.73" lengthAdjust="spacingAndGlyphs">GLOBAL</tspan> <tspan x="-13.21" textLength="21.12" lengthAdjust="spacingAndGlyphs">INFO</tspan> <tspan x="9.25" textLength="42.70" lengthAdjust="spacingAndGlyphs">RESEARCH</tspan></text></g>
<g transform="translate(781.00,365.10) rotate(-31) scale(1.33)"><path d="M9.79,-7.11L8.56,-8.56L7.11,-9.79L5.49,-10.78L3.74,-11.51L1.89,-11.95L0.00,-12.10L-1.89,-11.95L-3.74,-11.51L-5.49,-10.78L-7.11,-9.79L-8.56,-8.56L-9.79,-7.11L-10.41,-6.10L-5.02,-3.63L-5.02,-3.64L-4.38,-4.38L-3.64,-5.02L-2.81,-5.52L-1.92,-5.90L-0.97,-6.12L0.00,-6.20L0.97,-6.12L1.92,-5.90L2.81,-5.52L3.64,-5.02L4.38,-4.38L5.02,-3.64L5.52,-2.81L5.72,-2.35L11.84,-2.35L11.51,-3.74L10.78,-5.49ZM17.40,2.25L23.90,5.23L23.90,-2.90L17.40,-2.90L14.90,-2.90L10.00,0.45L17.40,0.45ZM23.90,8.23L17.40,5.25L17.40,12.05L23.90,12.05Z" fill="#dddee4"/><path d="M23.73,-9.16L23.38,-10.00L22.82,-10.72L22.10,-11.28L21.26,-11.63L20.35,-11.75L19.44,-11.63L18.60,-11.28L17.88,-10.72L17.32,-10.00L16.97,-9.16L16.85,-8.25L16.97,-7.34L17.32,-6.50L17.88,-5.78L18.60,-5.22L19.44,-4.87L20.35,-4.75L21.26,-4.87L22.10,-5.22L22.82,-5.78L23.38,-6.50L23.73,-7.34L23.85,-8.25ZM-11.51,3.74L-10.78,5.49L-9.79,7.11L-8.56,8.56L-7.11,9.79L-5.49,10.78L-3.74,11.51L-1.89,11.95L0.00,12.10L1.89,11.95L3.74,11.51L5.49,10.78L6.00,10.47L6.00,12.05L12.20,12.05L12.20,6.30L12.20,2.25L11.87,2.25L6.00,2.25L5.76,2.25L1.60,2.25L1.60,5.97L0.97,6.12L0.00,6.20L-0.97,6.12L-1.92,5.90L-2.81,5.52L-3.64,5.02L-4.38,4.38L-5.02,3.64L-5.52,2.81L-5.90,1.92L-6.12,0.97L-6.20,0.00L-6.12,-0.97L-5.98,-1.57L-11.38,-4.04L-11.51,-3.74L-11.95,-1.89L-12.10,0.00L-11.95,1.89Z" fill="#dddee4"/><text y="22.45" font-size="7.8" font-weight="700" fill="#e2e3e9" stroke="#e2e3e9" stroke-width="0.3" xml:space="preserve"><tspan x="-45.14" textLength="29.73" lengthAdjust="spacingAndGlyphs">GLOBAL</tspan> <tspan x="-13.21" textLength="21.12" lengthAdjust="spacingAndGlyphs">INFO</tspan> <tspan x="9.25" textLength="42.70" lengthAdjust="spacingAndGlyphs">RESEARCH</tspan></text></g>
<g transform="translate(-44.00,493.10) rotate(-31) scale(1.33)"><path d="M9.79,-7.11L8.56,-8.56L7.11,-9.79L5.49,-10.78L3.74,-11.51L1.89,-11.95L0.00,-12.10L-1.89,-11.95L-3.74,-11.51L-5.49,-10.78L-7.11,-9.79L-8.56,-8.56L-9.79,-7.11L-10.41,-6.10L-5.02,-3.63L-5.02,-3.64L-4.38,-4.38L-3.64,-5.02L-2.81,-5.52L-1.92,-5.90L-0.97,-6.12L0.00,-6.20L0.97,-6.12L1.92,-5.90L2.81,-5.52L3.64,-5.02L4.38,-4.38L5.02,-3.64L5.52,-2.81L5.72,-2.35L11.84,-2.35L11.51,-3.74L10.78,-5.49ZM17.40,2.25L23.90,5.23L23.90,-2.90L17.40,-2.90L14.90,-2.90L10.00,0.45L17.40,0.45ZM23.90,8.23L17.40,5.25L17.40,12.05L23.90,12.05Z" fill="#dddee4"/><path d="M23.73,-9.16L23.38,-10.00L22.82,-10.72L22.10,-11.28L21.26,-11.63L20.35,-11.75L19.44,-11.63L18.60,-11.28L17.88,-10.72L17.32,-10.00L16.97,-9.16L16.85,-8.25L16.97,-7.34L17.32,-6.50L17.88,-5.78L18.60,-5.22L19.44,-4.87L20.35,-4.75L21.26,-4.87L22.10,-5.22L22.82,-5.78L23.38,-6.50L23.73,-7.34L23.85,-8.25ZM-11.51,3.74L-10.78,5.49L-9.79,7.11L-8.56,8.56L-7.11,9.79L-5.49,10.78L-3.74,11.51L-1.89,11.95L0.00,12.10L1.89,11.95L3.74,11.51L5.49,10.78L6.00,10.47L6.00,12.05L12.20,12.05L12.20,6.30L12.20,2.25L11.87,2.25L6.00,2.25L5.76,2.25L1.60,2.25L1.60,5.97L0.97,6.12L0.00,6.20L-0.97,6.12L-1.92,5.90L-2.81,5.52L-3.64,5.02L-4.38,4.38L-5.02,3.64L-5.52,2.81L-5.90,1.92L-6.12,0.97L-6.20,0.00L-6.12,-0.97L-5.98,-1.57L-11.38,-4.04L-11.51,-3.74L-11.95,-1.89L-12.10,0.00L-11.95,1.89Z" fill="#dddee4"/><text y="22.45" font-size="7.8" font-weight="700" fill="#e2e3e9" stroke="#e2e3e9" stroke-width="0.3" xml:space="preserve"><tspan x="-45.14" textLength="29.73" lengthAdjust="spacingAndGlyphs">GLOBAL</tspan> <tspan x="-13.21" textLength="21.12" lengthAdjust="spacingAndGlyphs">INFO</tspan> <tspan x="9.25" textLength="42.70" lengthAdjust="spacingAndGlyphs">RESEARCH</tspan></text></g>
<g transform="translate(106.00,493.10) rotate(-31) scale(1.33)"><path d="M9.79,-7.11L8.56,-8.56L7.11,-9.79L5.49,-10.78L3.74,-11.51L1.89,-11.95L0.00,-12.10L-1.89,-11.95L-3.74,-11.51L-5.49,-10.78L-7.11,-9.79L-8.56,-8.56L-9.79,-7.11L-10.41,-6.10L-5.02,-3.63L-5.02,-3.64L-4.38,-4.38L-3.64,-5.02L-2.81,-5.52L-1.92,-5.90L-0.97,-6.12L0.00,-6.20L0.97,-6.12L1.92,-5.90L2.81,-5.52L3.64,-5.02L4.38,-4.38L5.02,-3.64L5.52,-2.81L5.72,-2.35L11.84,-2.35L11.51,-3.74L10.78,-5.49ZM17.40,2.25L23.90,5.23L23.90,-2.90L17.40,-2.90L14.90,-2.90L10.00,0.45L17.40,0.45ZM23.90,8.23L17.40,5.25L17.40,12.05L23.90,12.05Z" fill="#dddee4"/><path d="M23.73,-9.16L23.38,-10.00L22.82,-10.72L22.10,-11.28L21.26,-11.63L20.35,-11.75L19.44,-11.63L18.60,-11.28L17.88,-10.72L17.32,-10.00L16.97,-9.16L16.85,-8.25L16.97,-7.34L17.32,-6.50L17.88,-5.78L18.60,-5.22L19.44,-4.87L20.35,-4.75L21.26,-4.87L22.10,-5.22L22.82,-5.78L23.38,-6.50L23.73,-7.34L23.85,-8.25ZM-11.51,3.74L-10.78,5.49L-9.79,7.11L-8.56,8.56L-7.11,9.79L-5.49,10.78L-3.74,11.51L-1.89,11.95L0.00,12.10L1.89,11.95L3.74,11.51L5.49,10.78L6.00,10.47L6.00,12.05L12.20,12.05L12.20,6.30L12.20,2.25L11.87,2.25L6.00,2.25L5.76,2.25L1.60,2.25L1.60,5.97L0.97,6.12L0.00,6.20L-0.97,6.12L-1.92,5.90L-2.81,5.52L-3.64,5.02L-4.38,4.38L-5.02,3.64L-5.52,2.81L-5.90,1.92L-6.12,0.97L-6.20,0.00L-6.12,-0.97L-5.98,-1.57L-11.38,-4.04L-11.51,-3.74L-11.95,-1.89L-12.10,0.00L-11.95,1.89Z" fill="#dddee4"/><text y="22.45" font-size="7.8" font-weight="700" fill="#e2e3e9" stroke="#e2e3e9" stroke-width="0.3" xml:space="preserve"><tspan x="-45.14" textLength="29.73" lengthAdjust="spacingAndGlyphs">GLOBAL</tspan> <tspan x="-13.21" textLength="21.12" lengthAdjust="spacingAndGlyphs">INFO</tspan> <tspan x="9.25" textLength="42.70" lengthAdjust="spacingAndGlyphs">RESEARCH</tspan></text></g>
<g transform="translate(256.00,493.10) rotate(-31) scale(1.33)"><path d="M9.79,-7.11L8.56,-8.56L7.11,-9.79L5.49,-10.78L3.74,-11.51L1.89,-11.95L0.00,-12.10L-1.89,-11.95L-3.74,-11.51L-5.49,-10.78L-7.11,-9.79L-8.56,-8.56L-9.79,-7.11L-10.41,-6.10L-5.02,-3.63L-5.02,-3.64L-4.38,-4.38L-3.64,-5.02L-2.81,-5.52L-1.92,-5.90L-0.97,-6.12L0.00,-6.20L0.97,-6.12L1.92,-5.90L2.81,-5.52L3.64,-5.02L4.38,-4.38L5.02,-3.64L5.52,-2.81L5.72,-2.35L11.84,-2.35L11.51,-3.74L10.78,-5.49ZM17.40,2.25L23.90,5.23L23.90,-2.90L17.40,-2.90L14.90,-2.90L10.00,0.45L17.40,0.45ZM23.90,8.23L17.40,5.25L17.40,12.05L23.90,12.05Z" fill="#dddee4"/><path d="M23.73,-9.16L23.38,-10.00L22.82,-10.72L22.10,-11.28L21.26,-11.63L20.35,-11.75L19.44,-11.63L18.60,-11.28L17.88,-10.72L17.32,-10.00L16.97,-9.16L16.85,-8.25L16.97,-7.34L17.32,-6.50L17.88,-5.78L18.60,-5.22L19.44,-4.87L20.35,-4.75L21.26,-4.87L22.10,-5.22L22.82,-5.78L23.38,-6.50L23.73,-7.34L23.85,-8.25ZM-11.51,3.74L-10.78,5.49L-9.79,7.11L-8.56,8.56L-7.11,9.79L-5.49,10.78L-3.74,11.51L-1.89,11.95L0.00,12.10L1.89,11.95L3.74,11.51L5.49,10.78L6.00,10.47L6.00,12.05L12.20,12.05L12.20,6.30L12.20,2.25L11.87,2.25L6.00,2.25L5.76,2.25L1.60,2.25L1.60,5.97L0.97,6.12L0.00,6.20L-0.97,6.12L-1.92,5.90L-2.81,5.52L-3.64,5.02L-4.38,4.38L-5.02,3.64L-5.52,2.81L-5.90,1.92L-6.12,0.97L-6.20,0.00L-6.12,-0.97L-5.98,-1.57L-11.38,-4.04L-11.51,-3.74L-11.95,-1.89L-12.10,0.00L-11.95,1.89Z" fill="#dddee4"/><text y="22.45" font-size="7.8" font-weight="700" fill="#e2e3e9" stroke="#e2e3e9" stroke-width="0.3" xml:space="preserve"><tspan x="-45.14" textLength="29.73" lengthAdjust="spacingAndGlyphs">GLOBAL</tspan> <tspan x="-13.21" textLength="21.12" lengthAdjust="spacingAndGlyphs">INFO</tspan> <tspan x="9.25" textLength="42.70" lengthAdjust="spacingAndGlyphs">RESEARCH</tspan></text></g>
<g transform="translate(406.00,493.10) rotate(-31) scale(1.33)"><path d="M9.79,-7.11L8.56,-8.56L7.11,-9.79L5.49,-10.78L3.74,-11.51L1.89,-11.95L0.00,-12.10L-1.89,-11.95L-3.74,-11.51L-5.49,-10.78L-7.11,-9.79L-8.56,-8.56L-9.79,-7.11L-10.41,-6.10L-5.02,-3.63L-5.02,-3.64L-4.38,-4.38L-3.64,-5.02L-2.81,-5.52L-1.92,-5.90L-0.97,-6.12L0.00,-6.20L0.97,-6.12L1.92,-5.90L2.81,-5.52L3.64,-5.02L4.38,-4.38L5.02,-3.64L5.52,-2.81L5.72,-2.35L11.84,-2.35L11.51,-3.74L10.78,-5.49ZM17.40,2.25L23.90,5.23L23.90,-2.90L17.40,-2.90L14.90,-2.90L10.00,0.45L17.40,0.45ZM23.90,8.23L17.40,5.25L17.40,12.05L23.90,12.05Z" fill="#dddee4"/><path d="M23.73,-9.16L23.38,-10.00L22.82,-10.72L22.10,-11.28L21.26,-11.63L20.35,-11.75L19.44,-11.63L18.60,-11.28L17.88,-10.72L17.32,-10.00L16.97,-9.16L16.85,-8.25L16.97,-7.34L17.32,-6.50L17.88,-5.78L18.60,-5.22L19.44,-4.87L20.35,-4.75L21.26,-4.87L22.10,-5.22L22.82,-5.78L23.38,-6.50L23.73,-7.34L23.85,-8.25ZM-11.51,3.74L-10.78,5.49L-9.79,7.11L-8.56,8.56L-7.11,9.79L-5.49,10.78L-3.74,11.51L-1.89,11.95L0.00,12.10L1.89,11.95L3.74,11.51L5.49,10.78L6.00,10.47L6.00,12.05L12.20,12.05L12.20,6.30L12.20,2.25L11.87,2.25L6.00,2.25L5.76,2.25L1.60,2.25L1.60,5.97L0.97,6.12L0.00,6.20L-0.97,6.12L-1.92,5.90L-2.81,5.52L-3.64,5.02L-4.38,4.38L-5.02,3.64L-5.52,2.81L-5.90,1.92L-6.12,0.97L-6.20,0.00L-6.12,-0.97L-5.98,-1.57L-11.38,-4.04L-11.51,-3.74L-11.95,-1.89L-12.10,0.00L-11.95,1.89Z" fill="#dddee4"/><text y="22.45" font-size="7.8" font-weight="700" fill="#e2e3e9" stroke="#e2e3e9" stroke-width="0.3" xml:space="preserve"><tspan x="-45.14" textLength="29.73" lengthAdjust="spacingAndGlyphs">GLOBAL</tspan> <tspan x="-13.21" textLength="21.12" lengthAdjust="spacingAndGlyphs">INFO</tspan> <tspan x="9.25" textLength="42.70" lengthAdjust="spacingAndGlyphs">RESEARCH</tspan></text></g>
<g transform="translate(556.00,493.10) rotate(-31) scale(1.33)"><path d="M9.79,-7.11L8.56,-8.56L7.11,-9.79L5.49,-10.78L3.74,-11.51L1.89,-11.95L0.00,-12.10L-1.89,-11.95L-3.74,-11.51L-5.49,-10.78L-7.11,-9.79L-8.56,-8.56L-9.79,-7.11L-10.41,-6.10L-5.02,-3.63L-5.02,-3.64L-4.38,-4.38L-3.64,-5.02L-2.81,-5.52L-1.92,-5.90L-0.97,-6.12L0.00,-6.20L0.97,-6.12L1.92,-5.90L2.81,-5.52L3.64,-5.02L4.38,-4.38L5.02,-3.64L5.52,-2.81L5.72,-2.35L11.84,-2.35L11.51,-3.74L10.78,-5.49ZM17.40,2.25L23.90,5.23L23.90,-2.90L17.40,-2.90L14.90,-2.90L10.00,0.45L17.40,0.45ZM23.90,8.23L17.40,5.25L17.40,12.05L23.90,12.05Z" fill="#dddee4"/><path d="M23.73,-9.16L23.38,-10.00L22.82,-10.72L22.10,-11.28L21.26,-11.63L20.35,-11.75L19.44,-11.63L18.60,-11.28L17.88,-10.72L17.32,-10.00L16.97,-9.16L16.85,-8.25L16.97,-7.34L17.32,-6.50L17.88,-5.78L18.60,-5.22L19.44,-4.87L20.35,-4.75L21.26,-4.87L22.10,-5.22L22.82,-5.78L23.38,-6.50L23.73,-7.34L23.85,-8.25ZM-11.51,3.74L-10.78,5.49L-9.79,7.11L-8.56,8.56L-7.11,9.79L-5.49,10.78L-3.74,11.51L-1.89,11.95L0.00,12.10L1.89,11.95L3.74,11.51L5.49,10.78L6.00,10.47L6.00,12.05L12.20,12.05L12.20,6.30L12.20,2.25L11.87,2.25L6.00,2.25L5.76,2.25L1.60,2.25L1.60,5.97L0.97,6.12L0.00,6.20L-0.97,6.12L-1.92,5.90L-2.81,5.52L-3.64,5.02L-4.38,4.38L-5.02,3.64L-5.52,2.81L-5.90,1.92L-6.12,0.97L-6.20,0.00L-6.12,-0.97L-5.98,-1.57L-11.38,-4.04L-11.51,-3.74L-11.95,-1.89L-12.10,0.00L-11.95,1.89Z" fill="#dddee4"/><text y="22.45" font-size="7.8" font-weight="700" fill="#e2e3e9" stroke="#e2e3e9" stroke-width="0.3" xml:space="preserve"><tspan x="-45.14" textLength="29.73" lengthAdjust="spacingAndGlyphs">GLOBAL</tspan> <tspan x="-13.21" textLength="21.12" lengthAdjust="spacingAndGlyphs">INFO</tspan> <tspan x="9.25" textLength="42.70" lengthAdjust="spacingAndGlyphs">RESEARCH</tspan></text></g>
<g transform="translate(706.00,493.10) rotate(-31) scale(1.33)"><path d="M9.79,-7.11L8.56,-8.56L7.11,-9.79L5.49,-10.78L3.74,-11.51L1.89,-11.95L0.00,-12.10L-1.89,-11.95L-3.74,-11.51L-5.49,-10.78L-7.11,-9.79L-8.56,-8.56L-9.79,-7.11L-10.41,-6.10L-5.02,-3.63L-5.02,-3.64L-4.38,-4.38L-3.64,-5.02L-2.81,-5.52L-1.92,-5.90L-0.97,-6.12L0.00,-6.20L0.97,-6.12L1.92,-5.90L2.81,-5.52L3.64,-5.02L4.38,-4.38L5.02,-3.64L5.52,-2.81L5.72,-2.35L11.84,-2.35L11.51,-3.74L10.78,-5.49ZM17.40,2.25L23.90,5.23L23.90,-2.90L17.40,-2.90L14.90,-2.90L10.00,0.45L17.40,0.45ZM23.90,8.23L17.40,5.25L17.40,12.05L23.90,12.05Z" fill="#dddee4"/><path d="M23.73,-9.16L23.38,-10.00L22.82,-10.72L22.10,-11.28L21.26,-11.63L20.35,-11.75L19.44,-11.63L18.60,-11.28L17.88,-10.72L17.32,-10.00L16.97,-9.16L16.85,-8.25L16.97,-7.34L17.32,-6.50L17.88,-5.78L18.60,-5.22L19.44,-4.87L20.35,-4.75L21.26,-4.87L22.10,-5.22L22.82,-5.78L23.38,-6.50L23.73,-7.34L23.85,-8.25ZM-11.51,3.74L-10.78,5.49L-9.79,7.11L-8.56,8.56L-7.11,9.79L-5.49,10.78L-3.74,11.51L-1.89,11.95L0.00,12.10L1.89,11.95L3.74,11.51L5.49,10.78L6.00,10.47L6.00,12.05L12.20,12.05L12.20,6.30L12.20,2.25L11.87,2.25L6.00,2.25L5.76,2.25L1.60,2.25L1.60,5.97L0.97,6.12L0.00,6.20L-0.97,6.12L-1.92,5.90L-2.81,5.52L-3.64,5.02L-4.38,4.38L-5.02,3.64L-5.52,2.81L-5.90,1.92L-6.12,0.97L-6.20,0.00L-6.12,-0.97L-5.98,-1.57L-11.38,-4.04L-11.51,-3.74L-11.95,-1.89L-12.10,0.00L-11.95,1.89Z" fill="#dddee4"/><text y="22.45" font-size="7.8" font-weight="700" fill="#e2e3e9" stroke="#e2e3e9" stroke-width="0.3" xml:space="preserve"><tspan x="-45.14" textLength="29.73" lengthAdjust="spacingAndGlyphs">GLOBAL</tspan> <tspan x="-13.21" textLength="21.12" lengthAdjust="spacingAndGlyphs">INFO</tspan> <tspan x="9.25" textLength="42.70" lengthAdjust="spacingAndGlyphs">RESEARCH</tspan></text></g>
<g transform="translate(856.00,493.10) rotate(-31) scale(1.33)"><path d="M9.79,-7.11L8.56,-8.56L7.11,-9.79L5.49,-10.78L3.74,-11.51L1.89,-11.95L0.00,-12.10L-1.89,-11.95L-3.74,-11.51L-5.49,-10.78L-7.11,-9.79L-8.56,-8.56L-9.79,-7.11L-10.41,-6.10L-5.02,-3.63L-5.02,-3.64L-4.38,-4.38L-3.64,-5.02L-2.81,-5.52L-1.92,-5.90L-0.97,-6.12L0.00,-6.20L0.97,-6.12L1.92,-5.90L2.81,-5.52L3.64,-5.02L4.38,-4.38L5.02,-3.64L5.52,-2.81L5.72,-2.35L11.84,-2.35L11.51,-3.74L10.78,-5.49ZM17.40,2.25L23.90,5.23L23.90,-2.90L17.40,-2.90L14.90,-2.90L10.00,0.45L17.40,0.45ZM23.90,8.23L17.40,5.25L17.40,12.05L23.90,12.05Z" fill="#dddee4"/><path d="M23.73,-9.16L23.38,-10.00L22.82,-10.72L22.10,-11.28L21.26,-11.63L20.35,-11.75L19.44,-11.63L18.60,-11.28L17.88,-10.72L17.32,-10.00L16.97,-9.16L16.85,-8.25L16.97,-7.34L17.32,-6.50L17.88,-5.78L18.60,-5.22L19.44,-4.87L20.35,-4.75L21.26,-4.87L22.10,-5.22L22.82,-5.78L23.38,-6.50L23.73,-7.34L23.85,-8.25ZM-11.51,3.74L-10.78,5.49L-9.79,7.11L-8.56,8.56L-7.11,9.79L-5.49,10.78L-3.74,11.51L-1.89,11.95L0.00,12.10L1.89,11.95L3.74,11.51L5.49,10.78L6.00,10.47L6.00,12.05L12.20,12.05L12.20,6.30L12.20,2.25L11.87,2.25L6.00,2.25L5.76,2.25L1.60,2.25L1.60,5.97L0.97,6.12L0.00,6.20L-0.97,6.12L-1.92,5.90L-2.81,5.52L-3.64,5.02L-4.38,4.38L-5.02,3.64L-5.52,2.81L-5.90,1.92L-6.12,0.97L-6.20,0.00L-6.12,-0.97L-5.98,-1.57L-11.38,-4.04L-11.51,-3.74L-11.95,-1.89L-12.10,0.00L-11.95,1.89Z" fill="#dddee4"/><text y="22.45" font-size="7.8" font-weight="700" fill="#e2e3e9" stroke="#e2e3e9" stroke-width="0.3" xml:space="preserve"><tspan x="-45.14" textLength="29.73" lengthAdjust="spacingAndGlyphs">GLOBAL</tspan> <tspan x="-13.21" textLength="21.12" lengthAdjust="spacingAndGlyphs">INFO</tspan> <tspan x="9.25" textLength="42.70" lengthAdjust="spacingAndGlyphs">RESEARCH</tspan></text></g>
</g>
<polygon points="30,44.4 36.5,38 43,44.4 36.5,50.8" fill="#8faf22"/>
<polygon points="37,44.4 43.3,38 49.6,44.4 43.3,50.8" fill="#0033cc"/>
<text x="54.3" y="51.5" font-size="15" font-weight="700" fill="#0033cc" textLength="167.8" lengthAdjust="spacingAndGlyphs">Cable and Wire locators</text>
<g transform="translate(743.70,30.95)"><path d="M9.79,-7.11L8.56,-8.56L7.11,-9.79L5.49,-10.78L3.74,-11.51L1.89,-11.95L0.00,-12.10L-1.89,-11.95L-3.74,-11.51L-5.49,-10.78L-7.11,-9.79L-8.56,-8.56L-9.79,-7.11L-10.41,-6.10L-5.02,-3.63L-5.02,-3.64L-4.38,-4.38L-3.64,-5.02L-2.81,-5.52L-1.92,-5.90L-0.97,-6.12L0.00,-6.20L0.97,-6.12L1.92,-5.90L2.81,-5.52L3.64,-5.02L4.38,-4.38L5.02,-3.64L5.52,-2.81L5.72,-2.35L11.84,-2.35L11.51,-3.74L10.78,-5.49ZM17.40,2.25L23.90,5.23L23.90,-2.90L17.40,-2.90L14.90,-2.90L10.00,0.45L17.40,0.45ZM23.90,8.23L17.40,5.25L17.40,12.05L23.90,12.05Z" fill="#0b2f8e"/><path d="M23.73,-9.16L23.38,-10.00L22.82,-10.72L22.10,-11.28L21.26,-11.63L20.35,-11.75L19.44,-11.63L18.60,-11.28L17.88,-10.72L17.32,-10.00L16.97,-9.16L16.85,-8.25L16.97,-7.34L17.32,-6.50L17.88,-5.78L18.60,-5.22L19.44,-4.87L20.35,-4.75L21.26,-4.87L22.10,-5.22L22.82,-5.78L23.38,-6.50L23.73,-7.34L23.85,-8.25ZM-11.51,3.74L-10.78,5.49L-9.79,7.11L-8.56,8.56L-7.11,9.79L-5.49,10.78L-3.74,11.51L-1.89,11.95L0.00,12.10L1.89,11.95L3.74,11.51L5.49,10.78L6.00,10.47L6.00,12.05L12.20,12.05L12.20,6.30L12.20,2.25L11.87,2.25L6.00,2.25L5.76,2.25L1.60,2.25L1.60,5.97L0.97,6.12L0.00,6.20L-0.97,6.12L-1.92,5.90L-2.81,5.52L-3.64,5.02L-4.38,4.38L-5.02,3.64L-5.52,2.81L-5.90,1.92L-6.12,0.97L-6.20,0.00L-6.12,-0.97L-5.98,-1.57L-11.38,-4.04L-11.51,-3.74L-11.95,-1.89L-12.10,0.00L-11.95,1.89Z" fill="#8faf22"/><text y="20.85" font-size="7.8" font-weight="700" fill="#0b2f8e" stroke="#0b2f8e" stroke-width="0.3" xml:space="preserve"><tspan x="-44.85" textLength="30.70" lengthAdjust="spacingAndGlyphs">GLOBAL</tspan> <tspan x="-11.85" textLength="21.80" lengthAdjust="spacingAndGlyphs">INFO</tspan> <tspan x="11.35" textLength="44.10" lengthAdjust="spacingAndGlyphs">RESEARCH</tspan></text><rect x="-11.2" y="15.30" width="1.9" height="1.7" fill="#8faf22"/></g>
<rect x="0" y="71" width="829" height="1" fill="#dadadb"/>
<text y="99.7" font-size="15" fill="#5a5a5a" xml:space="preserve"><tspan x="30.0" textLength="68.4" lengthAdjust="spacingAndGlyphs">According</tspan> <tspan x="102.4" textLength="13.7" lengthAdjust="spacingAndGlyphs">to</tspan> <tspan x="120.1" textLength="23.7" lengthAdjust="spacingAndGlyphs">our</tspan> <tspan x="147.8" textLength="47.4" lengthAdjust="spacingAndGlyphs">(Global</tspan> <tspan x="199.2" textLength="24.2" lengthAdjust="spacingAndGlyphs">Info</tspan> <tspan x="227.4" textLength="67.9" lengthAdjust="spacingAndGlyphs">Research)</tspan> <tspan x="299.3" textLength="37.8" lengthAdjust="spacingAndGlyphs">latest</tspan> <tspan x="341.1" textLength="37.7" lengthAdjust="spacingAndGlyphs">study,</tspan> <tspan x="382.8" textLength="21.8" lengthAdjust="spacingAndGlyphs">the</tspan> <tspan x="408.6" textLength="41.3" lengthAdjust="spacingAndGlyphs">global</tspan> <tspan x="453.9" textLength="38.5" lengthAdjust="spacingAndGlyphs">Cable</tspan> <tspan x="496.4" textLength="25.6" lengthAdjust="spacingAndGlyphs">and</tspan> <tspan x="526.0" textLength="30.2" lengthAdjust="spacingAndGlyphs">Wire</tspan> <tspan x="560.2" textLength="54.2" lengthAdjust="spacingAndGlyphs">locators</tspan> <tspan x="618.4" textLength="45.9" lengthAdjust="spacingAndGlyphs">market</tspan> <tspan x="668.3" textLength="25.4" lengthAdjust="spacingAndGlyphs">size</tspan> <tspan x="697.7" textLength="25.6" lengthAdjust="spacingAndGlyphs">was</tspan> <tspan x="727.3" textLength="44.6" lengthAdjust="spacingAndGlyphs">valued</tspan> <tspan x="775.9" textLength="12.7" lengthAdjust="spacingAndGlyphs">at</tspan></text>
<text y="123.7" font-size="15" fill="#5a5a5a" xml:space="preserve"><tspan x="30.0" textLength="27.9" lengthAdjust="spacingAndGlyphs">US$</tspan> <tspan x="61.9" textLength="23.6" lengthAdjust="spacingAndGlyphs">127</tspan> <tspan x="89.5" textLength="46.1" lengthAdjust="spacingAndGlyphs">million</tspan> <tspan x="139.6" textLength="12.5" lengthAdjust="spacingAndGlyphs">in</tspan> <tspan x="156.1" textLength="33.5" lengthAdjust="spacingAndGlyphs">2025</tspan> <tspan x="193.6" textLength="22.8" lengthAdjust="spacingAndGlyphs">and</tspan> <tspan x="220.4" textLength="11.5" lengthAdjust="spacingAndGlyphs">is</tspan> <tspan x="235.9" textLength="53.8" lengthAdjust="spacingAndGlyphs">forecast</tspan> <tspan x="293.7" textLength="14.2" lengthAdjust="spacingAndGlyphs">to</tspan> <tspan x="311.9">a</tspan> <tspan x="323.8" textLength="70.1" lengthAdjust="spacingAndGlyphs">readjusted</tspan> <tspan x="397.9" textLength="25.4" lengthAdjust="spacingAndGlyphs">size</tspan> <tspan x="427.3" textLength="14.5" lengthAdjust="spacingAndGlyphs">of</tspan> <tspan x="445.8" textLength="27.6" lengthAdjust="spacingAndGlyphs">US$</tspan> <tspan x="477.4" textLength="23.9" lengthAdjust="spacingAndGlyphs">173</tspan> <tspan x="505.3" textLength="45.9" lengthAdjust="spacingAndGlyphs">million</tspan> <tspan x="555.2" textLength="16.2" lengthAdjust="spacingAndGlyphs">by</tspan> <tspan x="575.4" textLength="32.7" lengthAdjust="spacingAndGlyphs">2032</tspan> <tspan x="612.1" textLength="28.4" lengthAdjust="spacingAndGlyphs">with</tspan> <tspan x="644.5">a</tspan> <tspan x="657.1" textLength="38.3" lengthAdjust="spacingAndGlyphs">CAGR</tspan> <tspan x="699.4" textLength="13.8" lengthAdjust="spacingAndGlyphs">of</tspan> <tspan x="717.2" textLength="32.7" lengthAdjust="spacingAndGlyphs">4.4%</tspan> <tspan x="753.9" textLength="43.9" lengthAdjust="spacingAndGlyphs">during</tspan></text>
<text y="147.6" font-size="15" fill="#5a5a5a" xml:space="preserve"><tspan x="30.0" textLength="43.6" lengthAdjust="spacingAndGlyphs">review</tspan> <tspan x="77.6" textLength="46.6" lengthAdjust="spacingAndGlyphs">period.</tspan></text>
<path d="M197,428V307.3A30.0,30.0 0 0 1 257,307.3V428Z" fill="#0033cc"/>
<path d="M289.5,428V300.2A30.0,30.0 0 0 1 349.5,300.2V428Z" fill="#0033cc"/>
<path d="M567,428V252.0A30.0,30.0 0 0 1 627,252.0V428Z" fill="#0033cc"/>
<text x="227.2" y="268.8" font-size="14" fill="#444" text-anchor="middle" stroke="#fff" stroke-width="2" stroke-opacity=".7" paint-order="stroke" textLength="22.6" lengthAdjust="spacing">127</text>
<text x="320" y="261.7" font-size="14" fill="#444" text-anchor="middle" stroke="#fff" stroke-width="2" stroke-opacity=".7" paint-order="stroke" textLength="22.6" lengthAdjust="spacing">133</text>
<text x="597" y="214" font-size="14" fill="#444" text-anchor="middle" stroke="#fff" stroke-width="2" stroke-opacity=".7" paint-order="stroke" textLength="22.6" lengthAdjust="spacing">173</text>
<text x="227" y="446.9" font-size="15" fill="#444" text-anchor="middle" textLength="32.6" lengthAdjust="spacing">2025</text>
<text x="319.5" y="446.9" font-size="15" fill="#444" text-anchor="middle" textLength="32.6" lengthAdjust="spacing">2026</text>
<text x="597" y="446.9" font-size="15" fill="#444" text-anchor="middle" textLength="32.6" lengthAdjust="spacing">2032</text>
<line x1="320" y1="270.2" x2="589" y2="223.39" stroke="#f79a0e" stroke-width="2" stroke-dasharray="8 4"/>
<path transform="translate(597.8,221.9) rotate(-9.87)" d="M0,0L-16.5,-5L-12.3,0L-16.5,5Z" fill="#f79a0e"/>
<text transform="translate(458.50,246.10) rotate(-9.87)" x="-0.6" y="-8.4" font-size="15" font-weight="700" fill="#333" text-anchor="middle" textLength="74.2" lengthAdjust="spacingAndGlyphs">CAGR4.4%</text>
<text x="799" y="492.7" font-size="15" fill="#333" text-anchor="end" textLength="79.6" lengthAdjust="spacingAndGlyphs">Unit: US$ M</text>
<rect x="0" y="507" width="829" height="1" fill="#dadadb"/>
<text x="30.2" y="536.6" font-size="16.4" fill="#444" textLength="219.2" lengthAdjust="spacingAndGlyphs">www.globalinforesearch.com</text>
<text y="536.6" font-size="16.4" fill="#444" xml:space="preserve"><tspan x="481.3" textLength="66.8" lengthAdjust="spacingAndGlyphs">Business</tspan> <tspan x="552.7" textLength="30.2" lengthAdjust="spacingAndGlyphs">Risk</tspan> <tspan x="587.5" textLength="12.7" lengthAdjust="spacingAndGlyphs">&amp;</tspan> <tspan x="604.8" textLength="63.0" lengthAdjust="spacingAndGlyphs">Industry</tspan> <tspan x="672.4" textLength="63.1" lengthAdjust="spacingAndGlyphs">Analysis</tspan> <tspan x="740.1" textLength="58.5" lengthAdjust="spacingAndGlyphs">Reports</tspan></text>
</svg></body></html>
